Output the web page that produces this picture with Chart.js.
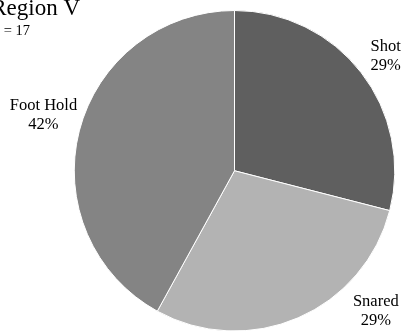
<!DOCTYPE html>
<html>
<head>
<meta charset="utf-8">
<script src="https://cdn.jsdelivr.net/npm/chart.js@4"></script>
<style>
  html, body { margin: 0; padding: 0; background: #fff; }
  #wrap { width: 404px; height: 333px; position: relative; }
</style>
</head>
<body>
<div id="wrap"><canvas id="pieChart" width="404" height="333"></canvas></div>
<script>
const categories = ['Shot', 'Snared', 'Foot Hold'];
const percents = [29, 29, 42];
const sliceColors = ['#5f5f5f', '#b3b3b3', '#848484'];
const titleText = 'Region V';
const subtitleText = 'n = 17';

// nudges from the outer point of each slice's mid-angle to its label
const labelNudge = [[24.5, -22], [77.7, -12.3], [-35.8, -20.8]];

const FONT = '"Liberation Serif", "DejaVu Serif", serif';

const labelPlugin = {
  id: 'sliceLabels',
  afterDatasetsDraw(chart) {
    const ctx = chart.ctx;
    const arcs = chart.getDatasetMeta(0).data;
    ctx.save();
    ctx.fillStyle = '#000';
    ctx.textAlign = 'center';
    ctx.textBaseline = 'alphabetic';
    ctx.font = '16.5px ' + FONT;
    arcs.forEach((arc, i) => {
      const p = arc.getProps(['x', 'y', 'startAngle', 'endAngle', 'outerRadius'], true);
      const mid = (p.startAngle + p.endAngle) / 2;
      const ox = p.x + Math.cos(mid) * p.outerRadius + labelNudge[i][0];
      const oy = p.y + Math.sin(mid) * p.outerRadius + labelNudge[i][1];
      ctx.fillText(categories[i], ox, oy);
      ctx.fillText(percents[i] + '%', ox, oy + 19);
    });
    // title block, partly cut off at the left edge like the source
    ctx.textAlign = 'right';
    ctx.font = '23px ' + FONT;
    ctx.fillText(titleText, 80, 15);
    ctx.font = '14.5px ' + FONT;
    ctx.fillText(subtitleText, 30, 35);
    ctx.restore();
  }
};

new Chart(document.getElementById('pieChart').getContext('2d'), {
  type: 'pie',
  data: {
    labels: categories,
    datasets: [{
      data: percents,
      backgroundColor: sliceColors,
      borderColor: '#ffffff',
      borderWidth: 1
    }]
  },
  options: {
    responsive: false,
    animation: false,
    layout: { padding: { left: 73.75, right: 8.75, top: 10, bottom: 1.5 } },
    plugins: {
      legend: { display: false },
      tooltip: { enabled: false },
      title: { display: false }
    }
  },
  plugins: [labelPlugin]
});
</script>
</body>
</html>
